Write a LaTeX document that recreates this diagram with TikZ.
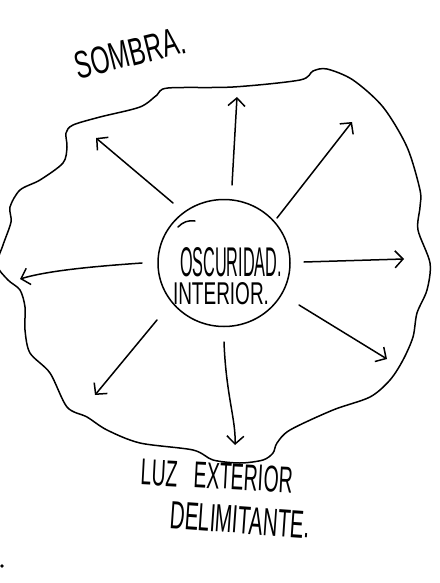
\documentclass[tikz,border=0pt]{standalone}
\usepackage{fontspec}
\setmainfont{Liberation Sans}
\usetikzlibrary{arrows.meta,shapes.geometric}
\newcommand{\hw}[3]{\resizebox{#1}{#2}{#3}}
\begin{document}
\begin{tikzpicture}[x=1pt,y=-1pt,line width=1.5pt,line cap=round,line join=round,
  arr/.style={-{Straight Barb[length=8pt,width=17pt,line width=1.5pt]}},
  lbl/.style={inner sep=0pt}]
\useasboundingbox (0,0) rectangle (439,583);
% outer blob (shadow boundary)
\draw plot[smooth cycle,tension=0.5] coordinates {
 (3,245) (11,222) (10,207) (20,190) (40,180) (63,163) (67,147) (66,133) (73,125)
 (100,117) (140,107) (157,95) (168,88) (233,87) (300,80) (313,71) (327,69)
 (353,80) (383,107) (407,147) (420,190) (420,207) (418,230) (430,263) (427,290)
 (417,313) (413,337) (403,360) (390,380) (370,397) (333,410) (290,430) (277,443)
 (273,453) (263,460) (240,463) (213,460) (193,450) (140,443) (107,430) (87,417)
 (67,407) (50,373) (30,353) (25,330) (25,307) (20,290) (8,280) (-3,265)};
% inner circle
\node[draw,ellipse,minimum width=132pt,minimum height=127pt] (core) at (224,263) {};
\draw (178,227) .. controls (183,222) and (188,220) .. (195,221);
\node[lbl] (t1) at (231,262) {\hw{102pt}{29pt}{OSCURIDAD.}};
\node[lbl] (t2) at (221,294) {\hw{96pt}{22pt}{INTERIOR.}};
% labels
\node[lbl,rotate=14] (sombra) at (130,53) {\hw{112pt}{27pt}{SOMBRA.}};
\node[lbl,rotate=-3] (luz) at (217,476) {\hw{152pt}{26pt}{LUZ\ \ \ EXTERIOR}};
\node[lbl,rotate=-4] (delim) at (240,520) {\hw{140pt}{27pt}{DELIMITANTE.}};
% arrow coordinates
\coordinate (s1) at (232,185); \coordinate (e1) at (237,97);
\coordinate (s2) at (277,218); \coordinate (e2) at (352,122);
\coordinate (s3) at (173,203); \coordinate (e3) at (96,138);
\coordinate (s4) at (142,263); \coordinate (e4) at (20,279);
\coordinate (s5) at (304,262); \coordinate (e5) at (404,259);
\coordinate (s6) at (299,305); \coordinate (e6) at (387,359);
\coordinate (s7) at (224,342); \coordinate (e7) at (235,445);
\coordinate (s8) at (157,320); \coordinate (e8) at (95,395);
\draw[arr] (s1) -- (e1);
\draw[arr] (s2) -- (e2);
\draw[arr] (s3) -- (e3);
\draw[arr] (s4) .. controls (100,266) and (50,270) .. (e4);
\draw[arr] (s5) -- (e5);
\draw[arr] (s6) -- (e6);
\draw[arr] (s7) .. controls (226,395) and (236,420) .. (e7);
\draw[arr] (s8) -- (e8);
% stray mark
\fill (2,566) circle (1.8pt);
\end{tikzpicture}
\end{document}
